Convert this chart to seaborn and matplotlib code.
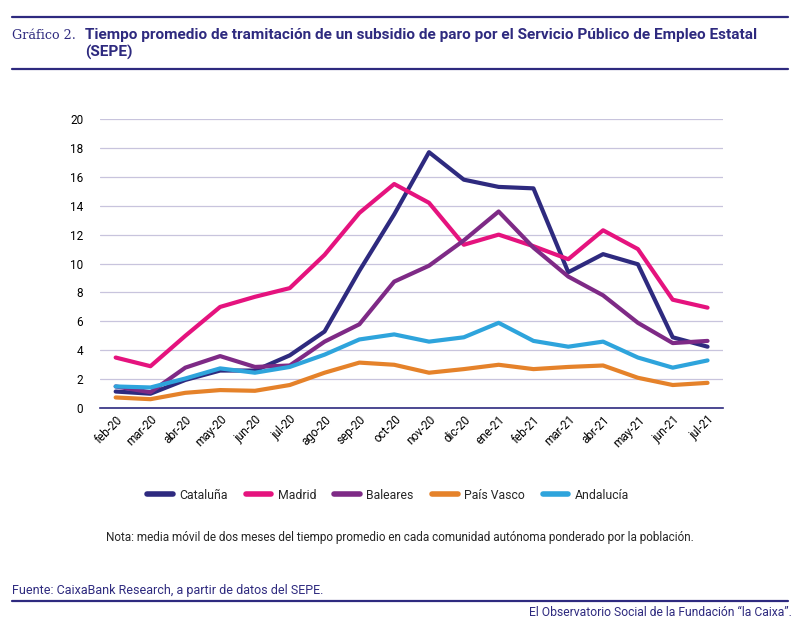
import pandas as pd
import seaborn as sns
import matplotlib.pyplot as plt

months = ["feb-20", "mar-20", "abr-20", "may-20", "jun-20", "jul-20", "ago-20", "sep-20",
          "oct-20", "nov-20", "dic-20", "ene-21", "feb-21", "mar-21", "abr-21", "may-21",
          "jun-21", "jul-21"]

cataluna = [1.15, 1.0, 1.95, 2.6, 2.6, 3.65, 5.3, 9.5, 13.4, 17.7, 15.8, 15.3, 15.2, 9.4, 10.65, 9.95, 4.9, 4.25]
madrid = [3.5, 2.9, 5.0, 7.0, 7.7, 8.3, 10.6, 13.5, 15.5, 14.2, 11.3, 12.0, 11.2, 10.3, 12.3, 11.0, 7.5, 6.95]
baleares = [1.5, 1.1, 2.8, 3.6, 2.85, 2.95, 4.6, 5.8, 8.75, 9.85, 11.6, 13.6, 11.1, 9.1, 7.8, 5.9, 4.5, 4.65]
pais_vasco = [0.74, 0.62, 1.06, 1.25, 1.2, 1.6, 2.45, 3.15, 3.0, 2.45, 2.7, 3.0, 2.7, 2.85, 2.95, 2.1, 1.6, 1.75]
andalucia = [1.5, 1.43, 2.05, 2.75, 2.45, 2.85, 3.7, 4.75, 5.1, 4.6, 4.9, 5.9, 4.65, 4.25, 4.6, 3.5, 2.8, 3.3]

series = {"Cataluña": cataluna, "Madrid": madrid, "Baleares": baleares,
          "País Vasco": pais_vasco, "Andalucía": andalucia}
colores = {"Cataluña": "#2e2a7f", "Madrid": "#e5137e", "Baleares": "#7e2a86",
           "País Vasco": "#e5822a", "Andalucía": "#2ea4dc"}

rows = []
for region, vals in series.items():
    for m, v in zip(months, vals):
        rows.append({"mes": m, "valor": v, "region": region})
df = pd.DataFrame(rows)

sns.set_style("white")
plt.rcParams["font.family"] = ["Roboto", "DejaVu Sans"]

navy = "#2e2a7f"
fig = plt.figure(figsize=(8, 6.26), dpi=100)
ax = fig.add_axes([0.125, 0.348, 0.779, 0.462])

sns.lineplot(data=df, x="mes", y="valor", hue="region", palette=colores,
             sort=False, linewidth=3, ax=ax, legend=False)

ax.set_ylim(0, 20)
ax.set_yticks(range(0, 21, 2))
ax.set_xlim(-0.45, len(months) - 0.55)
ax.grid(axis="y", color="#c8c4dd", linewidth=0.9)
ax.grid(axis="x", visible=False)
for s in ["top", "right", "left"]:
    ax.spines[s].set_visible(False)
ax.spines["bottom"].set_color(navy)
ax.spines["bottom"].set_linewidth(1.2)
ax.tick_params(axis="both", length=0, labelsize=8.5, colors="black")
ax.tick_params(axis="y", pad=12)
ax.set_xticks(range(len(months)))
ax.set_xticklabels(months, rotation=45, ha="right", rotation_mode="anchor")
ax.set_xlabel("")
ax.set_ylabel("")

# leyenda
handles = [plt.Line2D([], [], color=colores[r], linewidth=4, solid_capstyle="round") for r in series]
fig.legend(handles, list(series), loc="center", bbox_to_anchor=(0.485, 0.209), ncol=5,
           frameon=False, fontsize=8.8, handlelength=2.1, columnspacing=1.5, handletextpad=0.5)

# cabecera
fig.add_artist(plt.Line2D([0.015, 0.985], [0.973, 0.973], color=navy, linewidth=1.6))
fig.add_artist(plt.Line2D([0.015, 0.985], [0.89, 0.89], color=navy, linewidth=1.6))
fig.text(0.015, 0.944, "Gráfico 2.", fontsize=9.2, color=navy, family=["DejaVu Serif"], va="center")
fig.text(0.106, 0.944, "Tiempo promedio de tramitación de un subsidio de paro por el Servicio Público de Empleo Estatal",
         fontsize=11.1, fontweight="bold", color=navy, va="center")
fig.text(0.106, 0.916, "(SEPE)", fontsize=11.1, fontweight="bold", color=navy, va="center")

fig.text(0.5, 0.141, "Nota: media móvil de dos meses del tiempo promedio en cada comunidad autónoma ponderado por la población.",
         fontsize=8.5, ha="center", va="center")

fig.text(0.015, 0.056, "Fuente: CaixaBank Research, a partir de datos del SEPE.", fontsize=9,
         color=navy, va="center")
fig.add_artist(plt.Line2D([0.015, 0.985], [0.04, 0.04], color=navy, linewidth=1.6))
fig.text(0.99, 0.022, "El Observatorio Social de la Fundación “la Caixa”.", fontsize=8.7,
         color=navy, ha="right", va="center")

fig.savefig("out.png", dpi=100)
